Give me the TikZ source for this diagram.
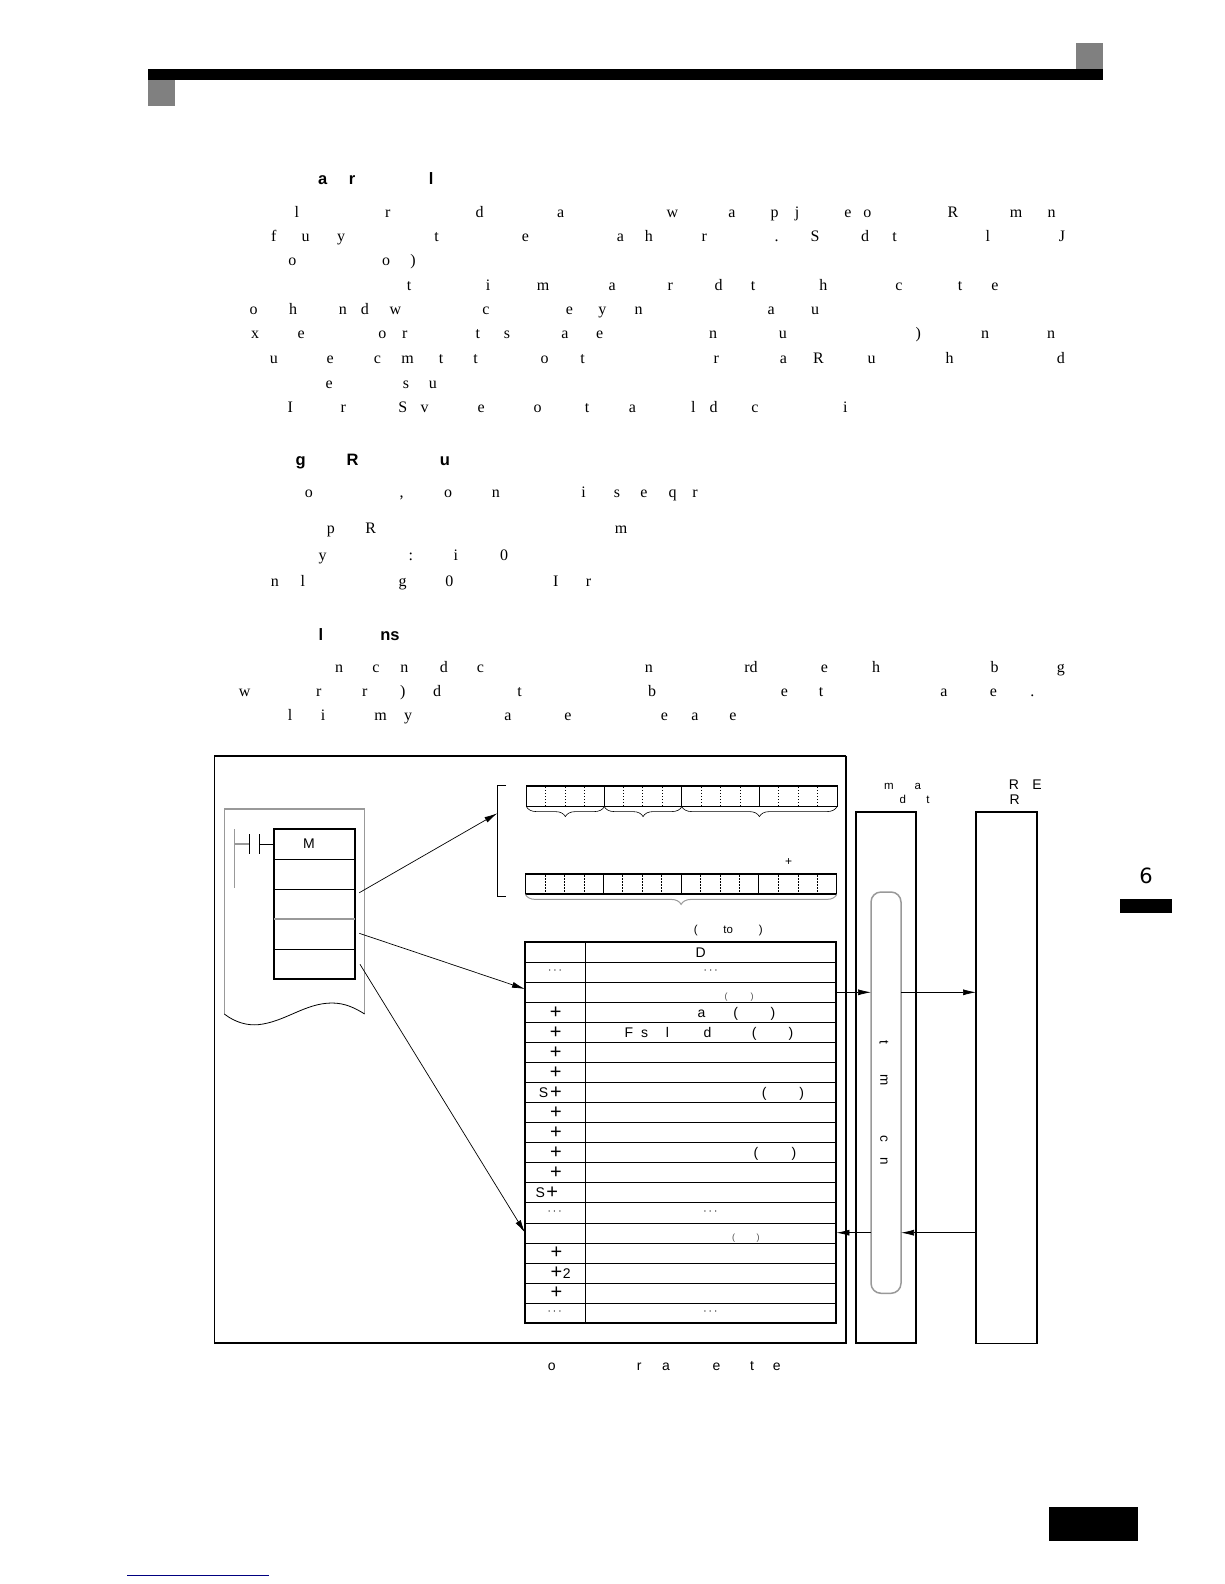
\documentclass[tikz,border=0pt]{standalone}
\usepackage{fontspec}
\setmainfont{Liberation Serif}
\setsansfont{Liberation Sans}
\newfontfamily\chapfont{DejaVu Sans}
\usepackage{xcolor}
\usetikzlibrary{arrows.meta,decorations.pathreplacing}
\definecolor{PageGray}{HTML}{808080}
\definecolor{LineGray}{HTML}{999999}
\definecolor{LinkNavy}{HTML}{000080}
\newcommand{\TextLine}[3]{\foreach \c/\x [count=\i] in {#3} \node[bodytxt] (#1\i) at (\x,#2) {\c};}
\newcommand{\HeadLine}[3]{\foreach \c/\x [count=\i] in {#3} \node[headtxt] (#1\i) at (\x,#2) {\c};}
\newcommand{\SansLine}[3]{\foreach \c/\x [count=\i] in {#3} \node[sanstxt] (#1\i) at (\x,#2) {\c};}
\newcommand{\TinyLine}[3]{\foreach \c/\x [count=\i] in {#3} \node[tinytxt] (#1\i) at (\x,#2) {\c};}

\begin{document}
\begin{tikzpicture}[x=1pt,y=-1pt,>=Latex,
  bodytxt/.style={inner sep=0pt,anchor=base,font=\fontsize{16}{18}\selectfont},
  headtxt/.style={inner sep=0pt,anchor=base,font=\sffamily\bfseries\fontsize{16.5}{18}\selectfont},
  sanstxt/.style={inner sep=0pt,anchor=base,font=\sffamily\fontsize{14}{16}\selectfont},
  tinytxt/.style={inner sep=0pt,anchor=base,font=\sffamily\fontsize{11.5}{13}\selectfont},
  smalltxt/.style={inner sep=0pt,anchor=center,font=\sffamily\fontsize{9}{10}\selectfont,text=black!70},
  plustxt/.style={inner sep=0pt,anchor=center,font=\sffamily\fontsize{20}{22}\selectfont},
  dotstxt/.style={inner sep=0pt,anchor=center,font=\sffamily\fontsize{12}{13}\selectfont},
  solid box/.style={fill=#1,draw=none,inner sep=0pt,outer sep=0pt,anchor=north west},
  frame box/.style={draw,inner sep=0pt,outer sep=0pt,anchor=north west},
  dot rule/.style={dash pattern=on 1.4pt off 1.6pt,line width=.7pt},
  link/.style={->,line width=.7pt,>={Latex[length=13pt,width=6pt]}},
  under brace/.style={decorate,decoration={brace,mirror,amplitude=10pt},line width=.6pt}]
\useasboundingbox (0,0) rectangle (1224,1584);
\node[solid box=black,minimum width=955pt,minimum height=11pt] (bar) at (148,69) {};
\node[solid box=PageGray,minimum width=27pt,minimum height=26pt] (tabL) at (148,80) {};
\node[solid box=PageGray,minimum width=27pt,minimum height=26pt] (tabR) at (1076,43) {};
\node[solid box=black,minimum width=51.7pt,minimum height=13.7pt] (tabCh) at (1120,899) {};
\node[inner sep=0pt,font=\chapfont\fontsize{21}{22}\selectfont] (chap) at (1146,876) {6};
\node[solid box=black,minimum width=89pt,minimum height=34pt] (pageno) at (1049,1507) {};
\draw[LinkNavy,line width=1pt] (127.3,1575.3)--(269,1575.3);

\HeadLine{ha}{184}{a/322.6,r/352.2,l/431.2}
\TextLine{la}{217}{l/296.8,r/387.9,d/479.5,a/560.6,w/672.5,a/731.8,p/774.6,j/797,e/848,o/867.3,R/952.9,m/1016,n/1051.6}
\TextLine{lb}{241}{f/273.8,u/305.6,y/341.2,t/436.7,e/525.5,a/620.4,h/648.9,r/704.3,./776.7,S/815.1,d/865,t/894.7,l/987.9,J/1062}
\TextLine{lc}{265}{o/292.4,o/386.2,{)}/413.1}
\TextLine{ld}{290}{t/409.2,i/488.2,m/543,a/612.2,r/670.3,d/718.6,t/753.1,h/823.3,c/899,t/960,e/995}
\TextLine{le}{314}{o/253.5,h/293,n/342.9,d/364.8,w/395.5,c/486,e/569.4,y/602.3,n/638.5,a/771.2,u/815.1}
\TextLine{lf}{338}{x/255.1,e/301.2,o/382.4,r/404.8,t/477.8,s/506.9,a/565,e/599.6,n/713.1,u/782.8,{)}/918.2,n/985.2,n/1051}
\TextLine{lg}{363}{u/273.8,e/330.2,c/377.4,m/407.6,t/441,t/475.6,o/544.7,t/582.6,r/716.4,a/783.3,R/818.4,u/871.6,h/949.5,d/1060.8}
\TextLine{lh}{388}{e/329.2,s/405.9,u/432.8}
\TextLine{li}{412}{I/290.2,r/343.4,S/402.7,v/424.6,e/481.1,o/537.6,t/587,a/632.5,l/693.4,d/713.7,c/754.8,i/845.3}
\HeadLine{hb}{465}{g/300.6,R/352.7,u/444.9}
\TextLine{ma}{497}{o/308.9,{,}/401.6,o/448.2,n/495.9,i/583.7,s/617.1,e/644,q/672.5,r/695}
\TextLine{mb}{533}{p/330.8,R/370.8,m/621}
\TextLine{mc}{560}{y/322.6,:/410.9,i/455.9,0/504.1}
\TextLine{md}{586}{n/274.9,l/302.8,g/402.7,0/449.3,I/555.7,r/588.6}
\HeadLine{hc}{640}{l/320.9,ns/390}
\TextLine{na}{672}{n/339,c/375.8,n/404.3,d/443.8,c/480.5,n/648.9,rd/751,e/824.4,h/876,b/994.5,g/1060.8}
\TextLine{nb}{696}{w/244.7,r/318.7,r/364.8,{)}/402.7,d/437.2,t/519.5,b/652.2,e/784.4,t/821.2,a/944,e/993.4,./1032.3}
\TextLine{nc}{720}{l/290.2,i/323.1,m/380.7,y/408.1,a/508,e/567.8,e/664.3,a/695,e/732.8}

\draw[line width=1.1pt] (214.5,1342.7)--(214.5,756)--(846,756);
\draw[line width=2.2pt] (846,755.5)--(846,1342.7)--(213.9,1342.7);

\draw[LineGray,line width=1.2pt] (224.3,1014)--(224.3,809)--(364.7,809)--(364.7,1014);
\draw[line width=.8pt] (224.3,1014) .. controls (236,1023) and (248,1025.5) .. (258,1024.7) .. controls (285,1022) and (305,1003) .. (332,1003) .. controls (345,1003) and (355,1008) .. (364.7,1014);
\node[frame box,line width=1.8pt,minimum width=80.4pt,minimum height=150pt] (inst) at (274.3,829) {};
\foreach \y in {859,889,949} \draw[line width=1pt] (274.3,\y)--(354.7,\y);
\draw[LineGray,line width=1.4pt] (274.3,919)--(354.7,919);
\draw[LineGray,line width=.9pt] (234.3,829)--(234.3,888.3);
\draw[LineGray,line width=1.1pt] (234.3,844)--(249.7,844);
\draw[line width=.8pt] (249.7,834)--(249.7,854);
\draw[line width=.8pt] (259.3,834)--(259.3,854);
\draw[line width=.8pt] (259.3,844)--(274.3,844);
\node[inner sep=0pt,font=\sffamily\fontsize{14}{16}\selectfont] (instM) at (309,844) {M};

\draw[line width=.8pt] (506,785)--(497.3,785)--(497.3,896)--(506,896);
\node[frame box,line width=.9pt,minimum width=310.6pt,minimum height=20.6pt] (regA) at (526.4,785.7) {};
\node[frame box,line width=.9pt,minimum width=311.4pt,minimum height=20pt] (regB) at (525.4,874) {};
\draw[line width=2pt] (regA.north west)--(regA.north east);
\draw[line width=2pt] (regB.north west)--(regB.north east);
\draw[line width=2pt] (regB.south west)--(regB.south east);
\foreach \x in {604.3,681.8,759.6} \draw[line width=.9pt] (\x,785.7)--(\x,806.3);
\foreach \x in {603.2,681.8,758.6} \draw[line width=.9pt] (\x,874)--(\x,894);
\foreach \x in {545.4,565.4,584.6,623.2,642.5,662.5,701.4,720.4,740.4,778.6,798.2,817.5} \draw[dot rule] (\x,787)--(\x,806.3);
\foreach \x in {545.4,564.6,584.3,622.5,642.5,661.4,700.7,720.4,739.3,778.6,797.9,817.5} \draw[dot rule] (\x,875.3)--(\x,894);
\draw[under brace] (526.4,806.6)--(604.3,806.6);
\draw[under brace] (604.3,806.6)--(681.8,806.6);
\draw[under brace] (681.8,806.6)--(837,806.6);
\draw[under brace,LineGray,line width=1pt] (525.4,894.4)--(836.8,894.4);
\node[inner sep=0pt,font=\sffamily\fontsize{12}{13}\selectfont] (regPlus) at (788.6,862) {+};
\TinyLine{cap}{933.5}{{(}/695.7,to/728.2,{)}/760.7}

\node[frame box,line width=1.9pt,minimum width=311.8pt,minimum height=381pt] (tbl) at (524.6,942.3) {};
\foreach \r in {1,...,18} \draw[line width=1pt] (524.6,{942.3+20.05*\r})--(836.4,{942.3+20.05*\r});
\draw[line width=1pt] (585.7,942.3)--(585.7,1323.3);
\foreach \r/\x in {4/555.7,5/555.7,6/555.7,7/555.7,8/556,9/556,10/556,11/556,12/556,13/552.1,16/556.4,17/556.4,18/556.4} \node[plustxt] (pl\r) at (\x,{942.3+20.05*(\r-.5)}) {+};
\foreach \r/\x [count=\i] in {2/555,2/710.7,14/554.6,14/710.4,19/554.6,19/710.4} \node[dotstxt] (dt\i) at (\x,{941+20.05*(\r-.5)}) {$\cdots$};
\SansLine{rowA}{957}{D/700.7}
\SansLine{rowD}{1017}{a/701.4,{(}/735.7,{)}/772.9}
\SansLine{rowE}{1037}{F/628.9,s/644.6,l/667.5,d/707.5,{(}/754.3,{)}/791}
\SansLine{rowH}{1097}{S/543.6,{(}/764.3,{)}/801.8}
\SansLine{rowK}{1157}{{(}/756,{)}/793.9}
\SansLine{rowM}{1197}{S/540.4}
\SansLine{rowQ}{1278}{2/566.8}
\node[smalltxt] (rowCa) at (726,997.3) {(};
\node[smalltxt] (rowCb) at (752,997.3) {)};
\node[smalltxt] (rowOa) at (733.6,1238.3) {(};
\node[smalltxt] (rowOb) at (758.2,1238.3) {)};

\node[frame box,line width=1.8pt,minimum width=60.3pt,minimum height=531.3pt] (boxA) at (855.7,812) {};
\node[frame box,line width=1.5pt,minimum width=60.8pt,minimum height=531.3pt] (boxB) at (976,812) {};
\node[frame box,draw=LineGray,line width=1.5pt,rounded corners=10pt,minimum width=30pt,minimum height=401.3pt,fill=white] (pill) at (871,892) {};
\foreach \c/\y [count=\i] in {t/1042,m/1080,c/1139.3,n/1161.7} \node[inner sep=0pt,rotate=-90,font=\sffamily\fontsize{13.5}{16}\selectfont] (pt\i) at (884,\y) {\c};
\TinyLine{tpA}{789.5}{m/889,a/917.9}
\TinyLine{tpB}{803.5}{d/902.9,t/927.9}
\SansLine{tpC}{789}{R/1013.9,E/1037.1}
\SansLine{tpD}{804}{R/1014.6}
\SansLine{foot}{1370.5}{o/551.8,r/639.3,a/666,e/716.4,t/752.1,e/776.8}

\coordinate (instA) at (359.3,892.7);
\coordinate (instB) at (359.3,933.3);
\coordinate (instC) at (360,964.3);
\coordinate (brkin) at (497.3,813.3);
\coordinate (tblA) at (525,989);
\coordinate (tblB) at (525,1232.7);
\coordinate (rowout) at (836.4,992.3);
\coordinate (rowin) at (836.4,1232.7);
\draw[link] (instA)--(brkin);
\draw[link] (instB)--(tblA);
\draw[link] (instC)--(tblB);
\draw[link] (rowout)--(rowout-|pill.west);
\draw[link] (rowout-|pill.east)--(rowout-|boxB.west);
\draw[link] (rowin-|boxB.west)--(rowin-|pill.east);
\draw[link] (rowin-|pill.west)--(rowin);
\end{tikzpicture}
\end{document}
